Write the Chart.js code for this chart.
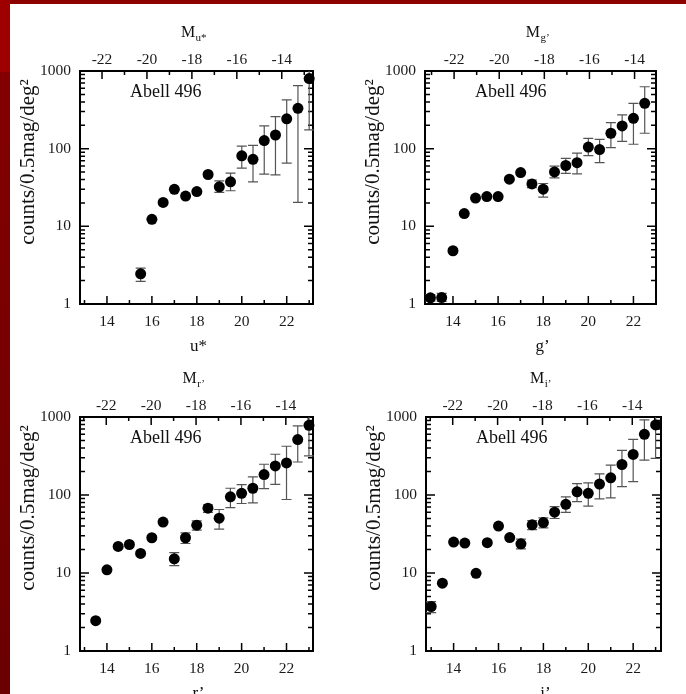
<!DOCTYPE html>
<html><head><meta charset="utf-8">
<script src="https://cdn.jsdelivr.net/npm/chart.js@4"></script>
<style>
html,body{margin:0;padding:0;background:#fff;width:686px;height:694px;overflow:hidden;position:relative}
canvas{position:absolute}
#topband{position:absolute;left:0;top:0;width:686px;height:4px;background:#8c0000}
#leftA{position:absolute;left:0;top:0;width:10px;height:72px;background:#9e0000}
#leftB{position:absolute;left:0;top:72px;width:10px;height:622px;background:linear-gradient(#840000,#6a0000)}
</style></head><body>
<div id="topband"></div><div id="leftA"></div><div id="leftB"></div>
<canvas id="c1" width="343" height="360" style="left:0px;top:0px"></canvas>
<canvas id="c2" width="343" height="360" style="left:343px;top:0px"></canvas>
<canvas id="c3" width="343" height="360" style="left:0px;top:346px"></canvas>
<canvas id="c4" width="343" height="360" style="left:343px;top:346px"></canvas>
<script>
// ---- data ----
const uMag    = [15.5, 16, 16.5, 17, 17.5, 18, 18.5, 19, 19.5, 20, 20.5, 21, 21.5, 22, 22.5, 23];
const uCounts = [2.45, 12.3, 20.3, 30, 24.5, 28, 46.5, 32.3, 37.4, 81, 73, 127, 150, 242, 331, 800];
const uErrLo  = [1.95, null, null, null, null, null, null, 27.3, 28.7, 56, 37.4, 47, 46, 65, 20.3, 175];
const uErrHi  = [2.9, null, null, null, null, null, null, 38.5, 48.5, 108, 110, 196, 259, 424, 648, 1000];

const gMag    = [13, 13.5, 14, 14.5, 15, 15.5, 16, 16.5, 17, 17.5, 18, 18.5, 19, 19.5, 20, 20.5, 21, 21.5, 22, 22.5];
const gCounts = [1.2, 1.21, 4.85, 14.6, 23.1, 24.2, 24.2, 40.5, 49.3, 35.2, 30.1, 50.2, 60.7, 66, 105, 97.5, 158, 196, 246, 384];
const gErrLo  = [1.1, 1.08, null, null, null, null, null, null, null, 31.5, 23.8, 42, 48, 47.4, 81.6, 66, 103, 124, 114, 158];
const gErrHi  = [1.32, 1.37, null, null, null, null, null, null, null, 39.5, 35.6, 59.5, 75, 87.6, 136, 132, 217, 272, 384, 627];

const rMag    = [13.5, 14, 14.5, 15, 15.5, 16, 16.5, 17, 17.5, 18, 18.5, 19, 19.5, 20, 20.5, 21, 21.5, 22, 22.5, 23];
const rCounts = [2.45, 11.0, 21.9, 23.2, 17.8, 28.3, 44.9, 15.2, 28.3, 41, 67.8, 50.5, 94.7, 105, 122, 183, 236, 258, 513, 783];
const rErrLo  = [null, null, null, null, null, null, null, 12.4, 23.9, 35.4, 60, 36.5, 69, 77.8, 79.3, 121, 137, 87.5, 265, 317];
const rErrHi  = [null, null, null, null, null, null, null, 18.3, 32.7, 46.7, 75, 65.2, 122, 136, 171, 248, 333, 422, 768, 1000];

const iMag    = [13, 13.5, 14, 14.5, 15, 15.5, 16, 16.5, 17, 17.5, 18, 18.5, 19, 19.5, 20, 20.5, 21, 21.5, 22, 22.5, 23];
const iCounts = [3.72, 7.4, 24.9, 24.2, 9.9, 24.5, 39.9, 28.5, 23.7, 41.4, 44.3, 60.3, 76, 110, 105, 138, 166, 246, 331, 599, 790];
const iErrLo  = [3.1, null, null, null, null, null, null, null, 20.4, 36, 38, 50, 60, 82, 72, 89, 92, 128, 148, 280, 294];
const iErrHi  = [4.3, null, null, null, null, null, null, null, 27.2, 47, 51, 71, 94.6, 140, 143, 187, 242, 373, 517, 916, 1000];

// ---- tick labels ----
const xTickVals = [14, 16, 18, 20, 22];
const mTickVals = [-22, -20, -18, -16, -14];
const yTickVals = [1, 10, 100, 1000];

const W = 343, H = 360;
const FONT = "'Liberation Serif', 'Times New Roman', serif";
Chart.defaults.font.family = FONT;

const deco = {
  id: 'deco',
  beforeDatasetsDraw(chart, args, o) {
    const {ctx, chartArea: a, scales} = chart;
    const x = scales.x, y = scales.y, x2 = scales.x2;
    ctx.save();
    // inward tick marks
    ctx.strokeStyle = '#000'; ctx.lineWidth = 1.5;
    ctx.beginPath();
    for (let m = Math.ceil(x.min); m <= Math.floor(x.max); m++) {
      const px = x.getPixelForValue(m), len = m % 2 === 0 ? 8 : 4;
      ctx.moveTo(px, a.bottom); ctx.lineTo(px, a.bottom - len);
    }
    for (let M = Math.ceil(x2.min); M <= Math.floor(x2.max); M++) {
      const px = x2.getPixelForValue(M), len = Math.abs(M) % 2 === 0 ? 8 : 4;
      ctx.moveTo(px, a.top); ctx.lineTo(px, a.top + len);
    }
    for (let d = 1; d < 1000; d *= 10) {
      for (let k = 1; k <= 9; k++) {
        const py = y.getPixelForValue(k * d), len = k === 1 ? 9 : 5;
        ctx.moveTo(a.left, py); ctx.lineTo(a.left + len, py);
        ctx.moveTo(a.right, py); ctx.lineTo(a.right - len, py);
      }
    }
    ctx.stroke();
    ctx.lineWidth = 2;
    ctx.strokeRect(a.left, a.top, a.right - a.left, a.bottom - a.top);
    // error bars
    ctx.strokeStyle = '#555'; ctx.lineWidth = 1.2;
    chart.data.datasets.forEach(ds => {
      ds.data.forEach((p, i) => {
        const lo = ds.errLo[i], hi = ds.errHi[i];
        if (lo == null || hi == null) return;
        const px = x.getPixelForValue(p.x);
        const y1 = y.getPixelForValue(lo), y2 = y.getPixelForValue(hi);
        ctx.beginPath();
        ctx.moveTo(px, y1); ctx.lineTo(px, y2);
        ctx.moveTo(px - 5, y1); ctx.lineTo(px + 5, y1);
        if (hi < 1000) { ctx.moveTo(px - 5, y2); ctx.lineTo(px + 5, y2); }
        ctx.stroke();
      });
    });
    ctx.restore();
  },
  afterDraw(chart, args, o) {
    const {ctx, chartArea: a} = chart;
    const cx = (a.left + a.right) / 2;
    ctx.save();
    ctx.fillStyle = '#111';
    // cluster name
    ctx.font = '18px ' + FONT; ctx.textAlign = 'left'; ctx.textBaseline = 'alphabetic';
    ctx.fillText('Abell 496', a.left + 50, a.top + 26);
    // bottom axis title
    ctx.font = '17px ' + FONT; ctx.textAlign = 'center';
    ctx.fillText(o.band, cx + 2, a.bottom + 47);
    // top axis title: M with subscript
    ctx.font = '16px ' + FONT;
    const wM = ctx.measureText('M').width;
    ctx.font = '11px ' + FONT;
    const wS = ctx.measureText(o.band).width;
    const start = cx - 3 - (wM + wS) / 2;
    ctx.textAlign = 'left';
    ctx.font = '16px ' + FONT; ctx.fillText('M', start, a.top - 34);
    ctx.font = '11px ' + FONT; ctx.fillText(o.band, start + wM + 0.5, a.top - 30);
    // y axis title
    ctx.translate(a.left - 52, a.top + 91);
    ctx.rotate(-Math.PI / 2);
    ctx.font = '21px ' + FONT; ctx.textAlign = 'center'; ctx.textBaseline = 'middle';
    ctx.fillText('counts/0.5mag/deg\u00B2', 0, 0);
    ctx.restore();
  }
};

function tickList(vals) { return s => { s.ticks = vals.map(v => ({value: v})); }; }

function makePanel(id, p, mags, counts, lo, hi) {
  const pts = mags.map((m, i) => ({x: m, y: counts[i]}));
  const tickFont = {size: 15.5, family: FONT};
  new Chart(document.getElementById(id), {
    type: 'scatter',
    data: {datasets: [{data: pts, errLo: lo, errHi: hi, pointRadius: 5.5, pointHoverRadius: 5.5,
      backgroundColor: '#000', borderWidth: 0, clip: false}]},
    options: {
      responsive: false, animation: false, devicePixelRatio: 1,
      layout: {padding: {left: 0, top: 0, bottom: 0, right: W - p.R}},
      plugins: {legend: {display: false}, tooltip: {enabled: false}, deco: {band: p.band}},
      events: [],
      scales: {
        x: {type: 'linear', position: 'bottom', min: p.xmin, max: p.xmax,
          grid: {display: false, drawTicks: false}, border: {display: false},
          afterBuildTicks: tickList(xTickVals),
          afterFit: s => { s.height = H - p.B; },
          ticks: {padding: 8.7, color: '#1a1a1a', font: tickFont, callback: v => String(v)}},
        x2: {type: 'linear', position: 'top', min: p.xmin - p.off, max: p.xmax - p.off,
          grid: {display: false, drawTicks: false}, border: {display: false},
          afterBuildTicks: tickList(mTickVals),
          afterFit: s => { s.height = p.T; },
          ticks: {padding: 1.7, color: '#1a1a1a', font: tickFont, callback: v => String(v)}},
        y: {type: 'logarithmic', position: 'left', min: 1, max: 1000,
          grid: {display: false, drawTicks: false}, border: {display: false},
          afterBuildTicks: tickList(yTickVals),
          afterFit: s => { s.width = p.L; },
          ticks: {padding: 9, color: '#1a1a1a', font: tickFont, callback: v => String(v)}}
      }
    },
    plugins: [deco]
  });
}

makePanel('c1', {L: 80, R: 313, T: 71, B: 304, xmin: 12.8, xmax: 23.17, off: 35.78, band: 'u*'}, uMag, uCounts, uErrLo, uErrHi);
makePanel('c2', {L: 82, R: 313, T: 71, B: 304, xmin: 12.76, xmax: 23.0, off: 36.05, band: 'g\u2019'}, gMag, gCounts, gErrLo, gErrHi);
makePanel('c3', {L: 80, R: 313, T: 71, B: 305, xmin: 12.8, xmax: 23.18, off: 35.97, band: 'r\u2019'}, rMag, rCounts, rErrLo, rErrHi);
makePanel('c4', {L: 83, R: 318, T: 71, B: 305, xmin: 12.77, xmax: 23.24, off: 35.96, band: 'i\u2019'}, iMag, iCounts, iErrLo, iErrHi);
</script>
</body></html>
